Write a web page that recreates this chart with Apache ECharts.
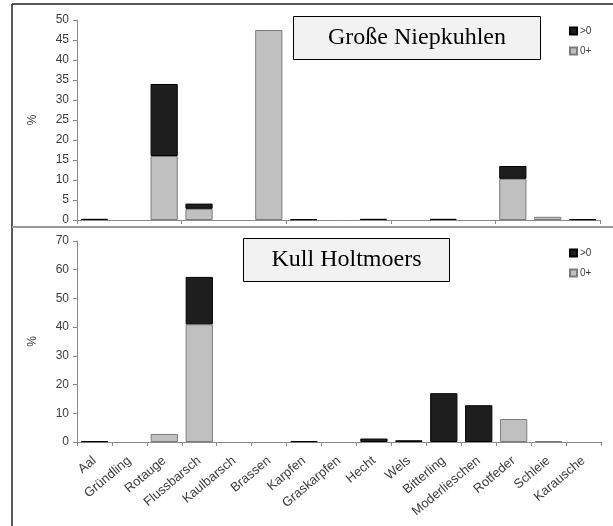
<!DOCTYPE html>
<html>
<head>
<meta charset="utf-8">
<script src="https://cdn.jsdelivr.net/npm/echarts/dist/echarts.min.js"></script>
<style>
  html, body { margin: 0; padding: 0; background: #ffffff; }
  #chart { width: 613px; height: 526px; }
</style>
</head>
<body>
<div id="chart"></div>
<script>
// Fish species (shared by both lakes)
const categories = ['Aal', 'Gründling', 'Rotauge', 'Flussbarsch', 'Kaulbarsch', 'Brassen', 'Karpfen',
  'Graskarpfen', 'Hecht', 'Wels', 'Bitterling', 'Moderlieschen', 'Rotfeder', 'Schleie', 'Karausche'];

// Age-class names used by the legends
const legendNames = ['>0', '0+'];

// Große Niepkuhlen – share in % per age class
const niepkuhlenYoung = [0, 0, 16, 2.8, 0, 47.5, 0, 0, 0, 0, 0, 0, 10.3, 0.8, 0];
const niepkuhlenOlder = [0.3, 0, 18, 1.3, 0, 0, 0.2, 0, 0.3, 0, 0.3, 0, 3.2, 0, 0.2];

// Kull Holtmoers – share in % per age class
const holtmoersYoung = [0, 0, 2.8, 41, 0, 0, 0, 0, 0, 0, 0, 0, 8, 0.3, 0];
const holtmoersOlder = [0.3, 0, 0, 16.5, 0, 0, 0.3, 0, 1.2, 0.6, 17, 12.8, 0, 0, 0];

// Value-axis ranges
const niepkuhlenAxis = { min: 0, max: 50, interval: 5 };
const holtmoersAxis = { min: 0, max: 70, interval: 10 };

const panelTitles = ['Große Niepkuhlen', 'Kull Holtmoers'];

const chart = echarts.init(document.getElementById('chart'), null, { renderer: 'canvas' });

const font = 'Liberation Sans, Arial, sans-serif';
const axisGrey = '#8a8a8a';
const labelGrey = '#3c3c3c';

const youngStyle = { color: '#c0c0c0', borderColor: '#7c7c7c', borderWidth: 1 };
const olderStyle = { color: '#1e1e1e', borderColor: '#000000', borderWidth: 1 };

// empty classes get no bar at all (otherwise the border would draw a flat line)
const bars = values => values.map(v => (v === 0 ? '-' : v));

function valueAxis(gridIndex, range) {
  return {
    type: 'value', gridIndex,
    min: range.min, max: range.max, interval: range.interval,
    name: '%', nameLocation: 'middle', nameGap: 38, nameRotate: 90,
    nameTextStyle: { color: labelGrey, fontSize: 12, fontFamily: font },
    axisLine: { show: true, lineStyle: { color: axisGrey, width: 1 } },
    axisTick: { show: true, length: 4, lineStyle: { color: axisGrey } },
    splitLine: { show: false },
    axisLabel: { color: labelGrey, fontSize: 12, fontFamily: font, margin: 8 }
  };
}

function categoryAxis(gridIndex, showLabels) {
  return {
    type: 'category', gridIndex, data: categories,
    axisLine: { show: true, lineStyle: { color: axisGrey, width: 1 } },
    axisTick: { show: true, length: 4, lineStyle: { color: axisGrey } },
    axisLabel: showLabels
      ? { show: true, rotate: 40, color: labelGrey, fontSize: 13, fontFamily: font, margin: 17, interval: 0 }
      : { show: false }
  };
}

function legendFor(top) {
  return {
    data: legendNames, orient: 'vertical', left: 564, top,
    itemWidth: 7, itemHeight: 7, itemGap: 10, icon: 'rect',
    textStyle: { color: labelGrey, fontSize: 10, fontFamily: font, padding: [0, 0, 0, -2] }
  };
}

function titleBox(x, y, w, h, text) {
  return {
    type: 'group', left: x, top: y,
    children: [
      { type: 'rect', shape: { x: 0, y: 0, width: w, height: h },
        style: { fill: '#f2f2f2', stroke: '#000', lineWidth: 1 } },
      { type: 'text', x: w / 2, y: h / 2,
        style: { text, font: '24px "Liberation Serif", "Times New Roman", serif',
                 fill: '#000', align: 'center', verticalAlign: 'middle' } }
    ]
  };
}

chart.setOption({
  animation: false,
  backgroundColor: '#ffffff',
  grid: [
    { left: 77, top: 20, width: 523, height: 200 },
    { left: 77, top: 241, width: 524, height: 201 }
  ],
  xAxis: [categoryAxis(0, false), categoryAxis(1, true)],
  yAxis: [valueAxis(0, niepkuhlenAxis), valueAxis(1, holtmoersAxis)],
  legend: [legendFor(21), legendFor(243)],
  series: [
    { name: '0+', type: 'bar', stack: 'niep', xAxisIndex: 0, yAxisIndex: 0,
      barCategoryGap: '22%', data: bars(niepkuhlenYoung), itemStyle: youngStyle },
    { name: '>0', type: 'bar', stack: 'niep', xAxisIndex: 0, yAxisIndex: 0,
      barCategoryGap: '22%', data: bars(niepkuhlenOlder), itemStyle: olderStyle },
    { name: '0+', type: 'bar', stack: 'holt', xAxisIndex: 1, yAxisIndex: 1,
      barCategoryGap: '22%', data: bars(holtmoersYoung), itemStyle: youngStyle },
    { name: '>0', type: 'bar', stack: 'holt', xAxisIndex: 1, yAxisIndex: 1,
      barCategoryGap: '22%', data: bars(holtmoersOlder), itemStyle: olderStyle }
  ],
  graphic: [
    // outer frame and panel divider
    { type: 'line', shape: { x1: 12, y1: 4, x2: 613, y2: 4 }, style: { stroke: '#222', lineWidth: 1.5 } },
    { type: 'line', shape: { x1: 12, y1: 4, x2: 12, y2: 526 }, style: { stroke: '#222', lineWidth: 1.5 } },
    { type: 'line', shape: { x1: 12, y1: 227, x2: 613, y2: 227 }, style: { stroke: '#9a9a9a', lineWidth: 2 } },
    titleBox(293, 16, 247, 43, panelTitles[0]),
    titleBox(243, 238, 206, 43, panelTitles[1])
  ]
});
</script>
</body>
</html>
